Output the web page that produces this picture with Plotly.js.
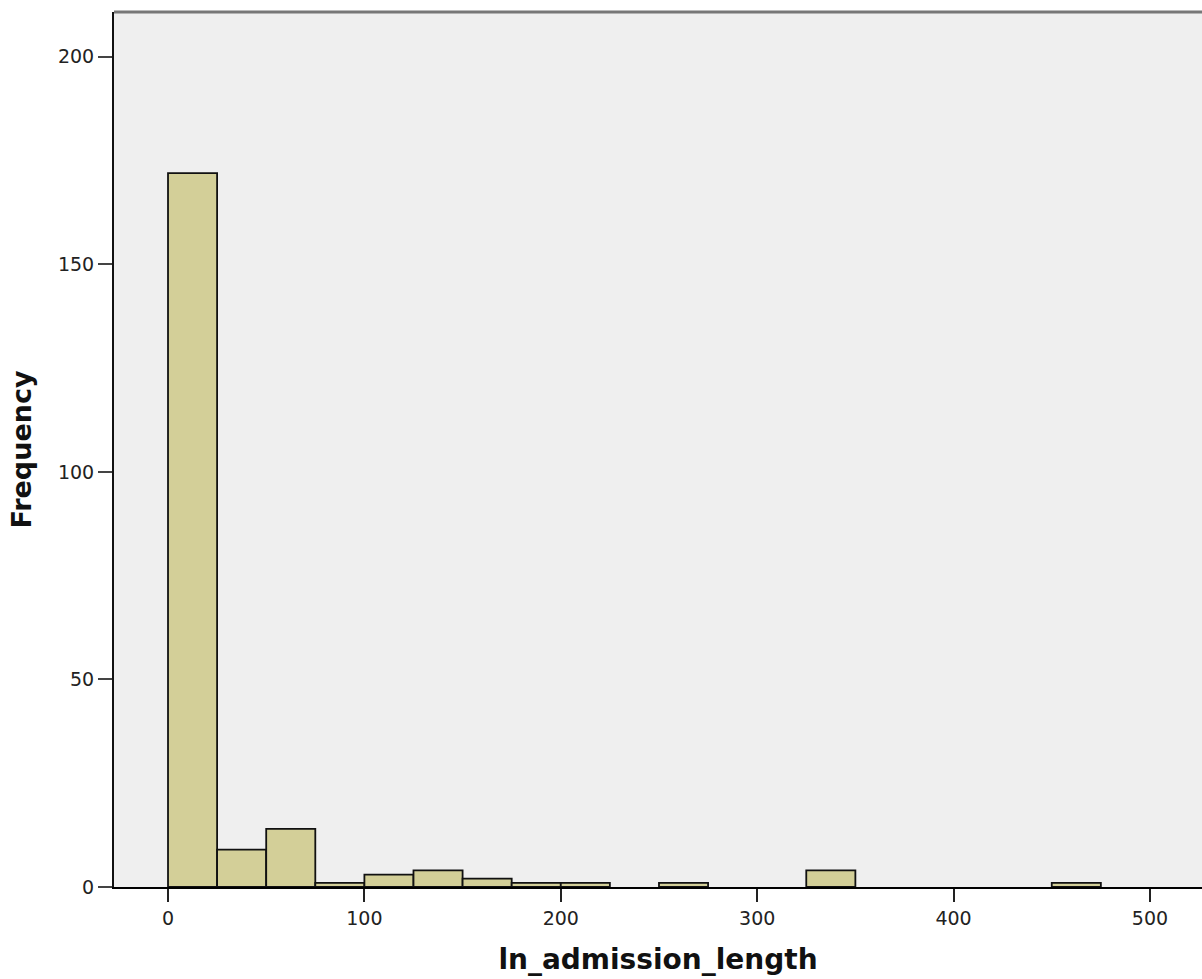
<!DOCTYPE html>
<html>
<head>
<meta charset="utf-8">
<script src="https://cdn.plot.ly/plotly-3.0.1.min.js"></script>
<style>html,body{margin:0;padding:0;background:#fff;}#chart{width:1202px;height:979px;}</style>
</head>
<body>
<div id="chart"></div>
<script>
// Histogram bins (start of each 25-wide bin) and counts
const binStarts = [0, 25, 50, 75, 100, 125, 150, 175, 200, 250, 325, 450];
const counts    = [172, 9, 14, 1, 3, 4, 2, 1, 1, 1, 4, 1];
const binWidth = 25;
const xTicks = [0, 100, 200, 300, 400, 500];
const yTicks = [0, 50, 100, 150, 200];

const trace = {
  type: 'bar',
  x: binStarts.map(s => s + binWidth / 2),
  y: counts,
  width: binStarts.map(() => binWidth),
  marker: {color: '#d3cf98', line: {color: '#111', width: 1.8}},
  hoverinfo: 'x+y'
};

const layout = {
  width: 1202, height: 979,
  margin: {l: 114, r: 0, t: 12, b: 92},
  paper_bgcolor: '#ffffff',
  plot_bgcolor: '#efefef',
  showlegend: false,
  bargap: 0,
  xaxis: {
    range: [-27.5, 526.5],
    tickvals: xTicks,
    ticks: 'outside', ticklen: 13, tickwidth: 2, tickcolor: '#222',
    showgrid: false, zeroline: false,
    showline: true, linecolor: '#000', linewidth: 2,
    tickfont: {family: 'DejaVu Sans', size: 19, color: '#222'},
    title: {text: 'ln_admission_length', font: {family: 'DejaVu Sans', size: 28, color: '#111', weight: 'bold'}, standoff: 22}
  },
  yaxis: {
    range: [0, 210.8],
    tickvals: yTicks,
    ticks: 'outside', ticklen: 14, tickwidth: 2, tickcolor: '#444',
    showgrid: false, zeroline: false,
    showline: true, linecolor: '#111', linewidth: 2,
    tickfont: {family: 'DejaVu Sans', size: 19, color: '#222'},
    title: {text: 'Frequency', font: {family: 'DejaVu Sans', size: 27, color: '#111', weight: 'bold'}, standoff: 18}
  },
  shapes: [
    {type: 'line', xref: 'paper', yref: 'paper', x0: 0, x1: 1, y0: 1, y1: 1, line: {color: '#777', width: 3}}
  ]
};

Plotly.newPlot('chart', [trace], layout, {displayModeBar: false, staticPlot: true});
</script>
</body>
</html>
